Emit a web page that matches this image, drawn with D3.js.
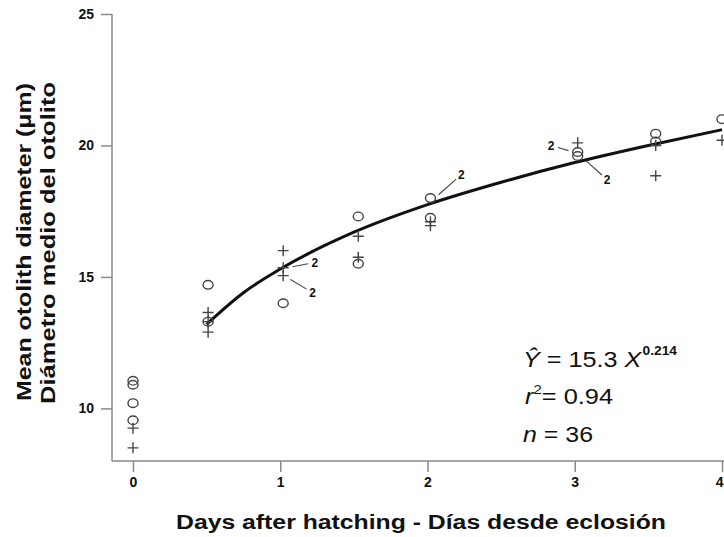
<!DOCTYPE html>
<meta charset="utf-8">
<script src="https://d3js.org/d3.v7.min.js"></script>
<style>
  body { margin: 0; background: #fff; }
  text { font-family: "Liberation Sans", Arial, sans-serif; fill: #111; }
</style>
<div id="chart"></div>
<script>
// observed points: age (days), otolith diameter (um), marker kind
const pointAge   = [0, 0, 0, 0, 0, 0,
                    0.51, 0.51, 0.51, 0.51, 0.51,
                    1.02, 1.02, 1.02, 1.02,
                    1.53, 1.53, 1.53, 1.53,
                    2.02, 2.02, 2.02, 2.02,
                    3.02, 3.02, 3.02,
                    3.55, 3.55, 3.55, 3.55,
                    4.0, 4.0];
const pointValue = [11.05, 10.9, 10.2, 9.55, 9.25, 8.5,
                    14.7, 13.65, 13.3, 13.3, 12.9,
                    16.0, 15.35, 15.05, 14.0,
                    17.3, 16.55, 15.75, 15.5,
                    18.0, 17.25, 17.1, 16.95,
                    20.1, 19.75, 19.6,
                    20.45, 20.15, 20.0, 18.85,
                    21.0, 20.2];
const pointKind  = ["o", "o", "o", "o", "+", "+",
                    "o", "+", "o", "+", "+",
                    "+", "+", "+", "o",
                    "o", "+", "+", "o",
                    "o", "o", "+", "+",
                    "+", "o", "o",
                    "o", "o", "+", "+",
                    "o", "+"];

// fitted curve
const curveAge   = [0.5, 0.75, 1, 1.5, 2, 2.5, 3, 3.5, 4];
const curveValue = [13.2, 14.4, 15.3, 16.7, 17.75, 18.6, 19.35, 20.0, 20.6];

// "2" labels (overlapping points): label position and the point it points to
const noteAge      = [1.235, 1.22, 2.23, 2.84, 3.22];
const noteValue    = [15.55, 14.4, 18.9, 20.0, 18.7];
const noteToAge    = [1.05, 1.04, 2.05, 2.99, 3.05];
const noteToValue  = [15.35, 15.0, 18.0, 19.75, 19.55];

const xTicks = [0, 1, 2, 3, 4];
const yTicks = [10, 15, 20, 25];

var width = 724, height = 537;

var svg = d3.select("#chart").append("svg")
    .attr("width", width)
    .attr("height", height);

var x = d3.scaleLinear().domain([0, 4]).range([133, 722]);
var y = d3.scaleLinear().domain([8, 25]).range([461, 14]);

var axisColor = "#8a8a8a";

// y axis
var yAxis = svg.append("g")
    .attr("transform", "translate(112,0)")
    .call(d3.axisLeft(y).tickValues(yTicks).tickSize(11).tickPadding(7).tickSizeOuter(0));
yAxis.select(".domain").attr("stroke", axisColor).attr("stroke-width", 1.5)
    .attr("d", "M0," + y(25) + "V461");
yAxis.selectAll(".tick line").attr("stroke", axisColor).attr("stroke-width", 1.5);
yAxis.selectAll(".tick text").attr("font-size", 14).attr("font-weight", "bold")
    .style("font-family", "'Liberation Sans', Arial, sans-serif").attr("fill", "#222");

// x axis
var xAxis = svg.append("g")
    .attr("transform", "translate(0,461)")
    .call(d3.axisBottom(x).tickValues(xTicks).tickFormat(d3.format("d"))
        .tickSize(11).tickPadding(5).tickSizeOuter(0));
xAxis.select(".domain").attr("stroke", axisColor).attr("stroke-width", 1.5)
    .attr("d", "M112,0H724");
xAxis.selectAll(".tick line").attr("stroke", axisColor).attr("stroke-width", 1.5);
xAxis.selectAll(".tick text").attr("font-size", 14).attr("font-weight", "bold")
    .style("font-family", "'Liberation Sans', Arial, sans-serif").attr("fill", "#222");
// last tick label sits at the right edge: keep it inside the frame
xAxis.selectAll(".tick text").filter(function (d) { return d === 4; })
    .attr("text-anchor", "end").attr("dx", 1);

// axis titles
svg.append("text")
    .attr("x", 421).attr("y", 529)
    .attr("text-anchor", "middle")
    .attr("font-size", 20).attr("font-weight", "bold")
    .attr("textLength", 490).attr("lengthAdjust", "spacingAndGlyphs")
    .text("Days after hatching - Días desde eclosión");

svg.append("text")
    .attr("transform", "translate(31,242) rotate(-90)")
    .attr("text-anchor", "middle")
    .attr("font-size", 20).attr("font-weight", "bold")
    .attr("textLength", 318).attr("lengthAdjust", "spacingAndGlyphs")
    .text("Mean otolith diameter (μm)");
svg.append("text")
    .attr("transform", "translate(55,243) rotate(-90)")
    .attr("text-anchor", "middle")
    .attr("font-size", 20).attr("font-weight", "bold")
    .attr("textLength", 322).attr("lengthAdjust", "spacingAndGlyphs")
    .text("Diámetro medio del otolito");

// fitted curve
var line = d3.line()
    .x(function (d, i) { return x(curveAge[i]); })
    .y(function (d, i) { return y(curveValue[i]); })
    .curve(d3.curveMonotoneX);
svg.append("path")
    .datum(curveAge)
    .attr("d", line)
    .attr("fill", "none")
    .attr("stroke", "#111")
    .attr("stroke-width", 3);

// points
var markColor = "#444";
var pts = svg.append("g");
pointAge.forEach(function (a, i) {
    var cx = x(a), cy = y(pointValue[i]);
    if (pointKind[i] === "o") {
        pts.append("ellipse")
            .attr("cx", cx).attr("cy", cy)
            .attr("rx", 5).attr("ry", 4.3)
            .attr("fill", "none")
            .attr("stroke", markColor).attr("stroke-width", 1.4);
    } else {
        pts.append("path")
            .attr("d", "M" + (cx - 5.5) + "," + cy + "H" + (cx + 5.5) +
                       "M" + cx + "," + (cy - 5.5) + "V" + (cy + 5.5))
            .attr("stroke", markColor).attr("stroke-width", 1.4);
    }
});

// "2" notes with leaders
var notes = svg.append("g");
noteAge.forEach(function (a, i) {
    var lx = x(a), ly = y(noteValue[i]);
    var px = x(noteToAge[i]), py = y(noteToValue[i]);
    var dx = px - lx, dy = py - ly, len = Math.sqrt(dx * dx + dy * dy);
    notes.append("line")
        .attr("x1", lx + dx / len * 7).attr("y1", ly + dy / len * 7)
        .attr("x2", px - dx / len * 5).attr("y2", py - dy / len * 5)
        .attr("stroke", "#444").attr("stroke-width", 1.1);
    notes.append("text")
        .attr("x", lx).attr("y", ly + 4.5)
        .attr("text-anchor", "middle")
        .attr("font-size", 12).attr("font-weight", "bold")
        .text("2");
});

// equation block
var eq = svg.append("g").attr("font-size", 22);
var t1 = eq.append("text").attr("x", 523).attr("y", 367);
t1.append("tspan").attr("font-style", "italic").text("Ŷ");
t1.append("tspan").text(" = 15.3 ");
t1.append("tspan").attr("font-style", "italic").text("X");
t1.append("tspan").attr("dy", -12).attr("dx", 1).attr("font-size", 12).attr("font-weight", "bold").text("0.214");
t1.attr("textLength", 154).attr("lengthAdjust", "spacingAndGlyphs");

var t2 = eq.append("text").attr("x", 525).attr("y", 404);
t2.append("tspan").attr("font-style", "italic").text("r");
t2.append("tspan").attr("dy", -10).attr("font-size", 13).text("2");
t2.append("tspan").attr("dy", 10).text("= 0.94");
t2.attr("textLength", 88).attr("lengthAdjust", "spacingAndGlyphs");

var t3 = eq.append("text").attr("x", 523).attr("y", 442);
t3.append("tspan").attr("font-style", "italic").text("n");
t3.append("tspan").text(" = 36");
t3.attr("textLength", 70).attr("lengthAdjust", "spacingAndGlyphs");
</script>
